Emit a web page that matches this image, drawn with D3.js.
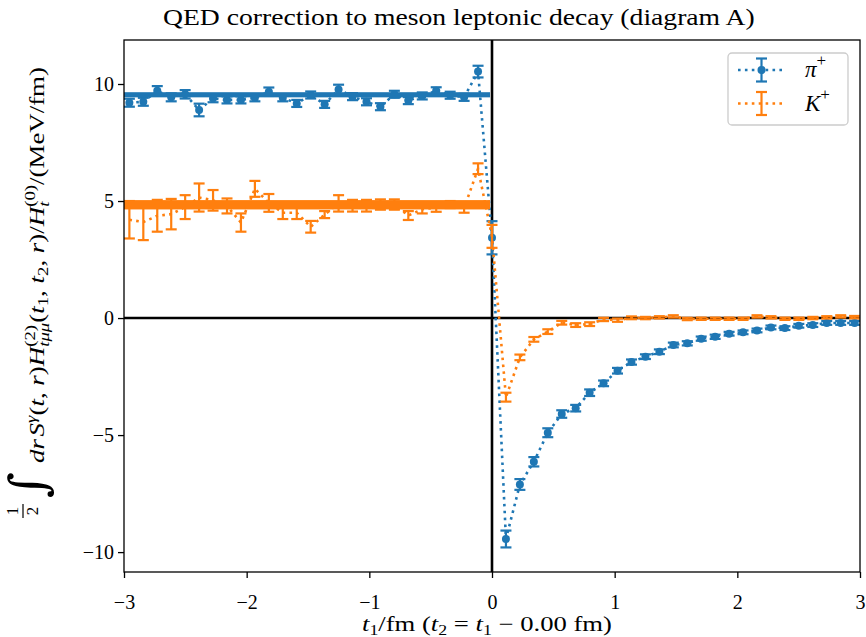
<!DOCTYPE html>
<html><head><meta charset="utf-8">
<script src="https://cdn.jsdelivr.net/npm/d3@7"></script>
<style>body{margin:0;background:#fff} svg{display:block}</style>
</head><body>
<svg id="chart" width="866" height="637"></svg>
<script>
// ---------------- data ----------------
const latticeSpacing = 0.1137; // fm
const steps = d3.range(-26, 27);
const tValues = steps.map(n => n * latticeSpacing);

const piValues = [
  9.20, 9.24, 9.71, 9.43, 9.56, 8.89, 9.39, 9.32, 9.32, 9.41, 9.67, 9.41, 9.17,
  9.53, 9.13, 9.77, 9.46, 9.24, 9.03, 9.56, 9.29, 9.49, 9.71, 9.52, 9.43, 10.53,
  3.43,
  -9.44, -7.11, -6.14, -4.90, -4.10, -3.85, -3.19, -2.79, -2.25, -1.88, -1.65, -1.44, -1.15,
  -1.08, -0.88, -0.80, -0.67, -0.61, -0.53, -0.40, -0.43, -0.33, -0.30, -0.21, -0.21, -0.21
];
const piErrors = [
  0.17, 0.17, 0.20, 0.17, 0.18, 0.27, 0.17, 0.15, 0.15, 0.15, 0.18, 0.15, 0.15,
  0.15, 0.15, 0.20, 0.15, 0.15, 0.15, 0.15, 0.15, 0.15, 0.15, 0.15, 0.15, 0.25,
  0.71,
  0.36, 0.23, 0.20, 0.19, 0.16, 0.14, 0.14, 0.12, 0.12, 0.11, 0.10, 0.10, 0.10,
  0.09, 0.09, 0.09, 0.08, 0.08, 0.08, 0.08, 0.08, 0.08, 0.08, 0.08, 0.08, 0.08
];
const kValues = [
  4.20, 4.10, 4.37, 4.44, 4.74, 5.15, 5.03, 4.79, 4.08, 5.52, 4.92, 4.50, 4.50,
  3.90, 4.42, 4.90, 4.80, 4.80, 4.85, 4.85, 4.38, 4.65, 4.72, 4.85, 4.70, 6.38,
  3.49,
  -3.38, -1.68, -0.91, -0.58, -0.20, -0.30, -0.26, -0.06, -0.09, 0.01, 0.00, 0.03, 0.07,
  -0.04, -0.03, -0.03, -0.03, -0.03, 0.07, 0.03, -0.03, -0.03, 0.00, 0.03, 0.07, 0.04
];
const kErrors = [
  0.80, 0.77, 0.68, 0.65, 0.51, 0.60, 0.44, 0.32, 0.39, 0.34, 0.38, 0.27, 0.27,
  0.25, 0.15, 0.35, 0.25, 0.25, 0.22, 0.22, 0.19, 0.18, 0.18, 0.15, 0.20, 0.23,
  0.49,
  0.19, 0.12, 0.10, 0.10, 0.08, 0.08, 0.08, 0.07, 0.07, 0.06, 0.05, 0.05, 0.05,
  0.05, 0.05, 0.05, 0.05, 0.05, 0.05, 0.05, 0.05, 0.05, 0.05, 0.05, 0.05, 0.05
];
const piFit = [9.54, 0.11];   // value, error  (fit over t < 0)
const kFit = [4.84, 0.20];
const fitRange = [-3, 0];
const xTicks = [-3, -2, -1, 0, 1, 2, 3];
const yTicks = [-10, -5, 0, 5, 10];
const seriesNames = ["π", "K"];

// ---------------- setup ----------------
const BLUE = "#1f77b4", ORANGE = "#ff7f0e";
const FONT = "'Liberation Serif', 'DejaVu Serif', serif";
const svg = d3.select("#chart");
const m = {left: 124, right: 860, top: 40, bottom: 572};
const x = d3.scaleLinear().domain([-3, 3]).range([m.left, m.right]);
const y = d3.scaleLinear().domain([-10.85, 11.88]).range([m.bottom, m.top]);

svg.append("defs").append("clipPath").attr("id", "clip")
  .append("rect").attr("x", m.left).attr("y", m.top)
  .attr("width", m.right - m.left).attr("height", m.bottom - m.top);

const plot = svg.append("g").attr("clip-path", "url(#clip)");

// zero lines
plot.append("line").attr("x1", m.left).attr("x2", m.right)
  .attr("y1", y(0)).attr("y2", y(0)).attr("stroke", "#000").attr("stroke-width", 2.6);
plot.append("line").attr("x1", x(0)).attr("x2", x(0))
  .attr("y1", m.top).attr("y2", m.bottom).attr("stroke", "#000").attr("stroke-width", 2.6);

function drawSeries(vals, errs, color, marker) {
  const pts = tValues.map((t, i) => ({t, v: vals[i], e: errs[i]}));
  const g = plot.append("g");
  g.append("path").datum(pts)
    .attr("d", d3.line().x(d => x(d.t)).y(d => y(d.v)))
    .attr("fill", "none").attr("stroke", color).attr("stroke-width", 2.6)
    .attr("stroke-dasharray", "2.6,4.3");
  const eb = g.selectAll("g.eb").data(pts).join("g").attr("class", "eb");
  eb.append("line").attr("x1", d => x(d.t)).attr("x2", d => x(d.t))
    .attr("y1", d => y(d.v - d.e)).attr("y2", d => y(d.v + d.e))
    .attr("stroke", color).attr("stroke-width", 2.2);
  [1, -1].forEach(s => {
    eb.append("line").attr("x1", d => x(d.t) - 5.5).attr("x2", d => x(d.t) + 5.5)
      .attr("y1", d => y(d.v + s * d.e)).attr("y2", d => y(d.v + s * d.e))
      .attr("stroke", color).attr("stroke-width", 2.2);
  });
  if (marker) {
    eb.append("circle").attr("cx", d => x(d.t)).attr("cy", d => y(d.v))
      .attr("r", 4).attr("fill", color);
  }
}
drawSeries(piValues, piErrors, BLUE, true);
drawSeries(kValues, kErrors, ORANGE, false);

// fit bands
[[piFit, BLUE], [kFit, ORANGE]].forEach(([f, c]) => {
  plot.append("rect").attr("x", x(fitRange[0])).attr("width", x(fitRange[1]) - x(fitRange[0]) - 2)
    .attr("y", y(f[0] + f[1])).attr("height", y(f[0] - f[1]) - y(f[0] + f[1]))
    .attr("fill", c);
});

// frame
svg.append("rect").attr("x", m.left).attr("y", m.top)
  .attr("width", m.right - m.left).attr("height", m.bottom - m.top)
  .attr("fill", "none").attr("stroke", "#000").attr("stroke-width", 1.3);

const fmt = d => d < 0 ? "\u2212" + Math.abs(d) : String(d);
// axes
const xa = svg.append("g").attr("transform", `translate(0,${m.bottom})`)
  .call(d3.axisBottom(x).tickValues(xTicks).tickSize(6).tickFormat(fmt));
xa.select(".domain").remove();
xa.selectAll("line").attr("stroke", "#000").attr("stroke-width", 1.3);
xa.selectAll("text").attr("y", 37).attr("dy", null)
  .attr("font-family", FONT).attr("font-size", 20).attr("fill", "#000");

const ya = svg.append("g").attr("transform", `translate(${m.left},0)`)
  .call(d3.axisLeft(y).tickValues(yTicks).tickSize(6).tickFormat(fmt));
ya.select(".domain").remove();
ya.selectAll("line").attr("stroke", "#000").attr("stroke-width", 1.3);
ya.selectAll("text").attr("x", -10).attr("dy", "0.33em")
  .attr("font-family", FONT).attr("font-size", 20).attr("fill", "#000");

// ---------- text layout helper ----------
function layout(parent, pieces, base) {
  let cx = 0, pend = null;
  pieces.forEach(p => {
    const t = parent.append("text").attr("x", cx).attr("y", p.dy || 0)
      .attr("font-family", p.ff || FONT).attr("font-size", p.fs || base)
      .attr("font-style", p.it ? "italic" : "normal").attr("fill", "#000")
      .style("white-space", "pre").text(p.t);
    const w = t.node().getComputedTextLength() + (p.gap || 0);
    if (p.stack) { pend = w; }
    else { cx += pend !== null ? Math.max(pend, w) : w; pend = null; }
  });
  return cx;
}

// title
{
  const g = svg.append("g");
  const t = g.append("text").attr("font-family", FONT).attr("font-size", 24)
    .text("QED correction to meson leptonic decay (diagram A)");
  const w = t.node().getComputedTextLength();
  g.attr("transform", `translate(163,25) scale(${592 / w},1)`);
}

// x label
{
  const g = svg.append("g");
  const w = layout(g, [
    {t: "t", it: true}, {t: "1", fs: 14, dy: 4}, {t: "/fm ("},
    {t: "t", it: true}, {t: "2", fs: 14, dy: 4}, {t: " = "},
    {t: "t", it: true}, {t: "1", fs: 14, dy: 4}, {t: " \u2212 0.00 fm)"}
  ], 21);
  g.attr("transform", `translate(362,631) scale(${250 / w},1)`);
}

// y label
{
  const g = svg.append("g").attr("transform", "translate(44,521) rotate(-90)");
  // fraction 1/2
  g.append("text").attr("x", 10).attr("y", -26).attr("text-anchor", "middle")
    .attr("font-family", FONT).attr("font-size", 17).text("1");
  g.append("line").attr("x1", 3).attr("x2", 17).attr("y1", -21).attr("y2", -21)
    .attr("stroke", "#000").attr("stroke-width", 1.2);
  g.append("text").attr("x", 10).attr("y", -6).attr("text-anchor", "middle")
    .attr("font-family", FONT).attr("font-size", 17).text("2");
  g.append("text").attr("x", 23).attr("y", 1)
    .attr("font-family", "'DejaVu Serif', serif").attr("font-size", 50).text("\u222B");
  const r = g.append("g");
  const w = layout(r, [
    {t: "dr", it: true, gap: 2}, {t: "S", it: true}, {t: "\u03B3", it: true, fs: 14, dy: -8},
    {t: "("}, {t: "t", it: true}, {t: ", "}, {t: "r", it: true}, {t: ")"},
    {t: "H", it: true}, {t: "(2)", fs: 14, dy: -9, stack: true}, {t: "t\u03BC\u03BC", it: true, fs: 14, dy: 5},
    {t: "("}, {t: "t", it: true}, {t: "1", fs: 14, dy: 4}, {t: ", "},
    {t: "t", it: true}, {t: "2", fs: 14, dy: 4}, {t: ", "}, {t: "r", it: true}, {t: ")/"},
    {t: "H", it: true}, {t: "(0)", fs: 14, dy: -9, stack: true}, {t: "t", it: true, fs: 14, dy: 5},
    {t: "/(MeV/fm)"}
  ], 20);
  r.attr("transform", `translate(58,0) scale(${396 / w},1)`);
}

// legend
{
  const L = svg.append("g");
  L.append("rect").attr("x", 728).attr("y", 53).attr("width", 120).attr("height", 72)
    .attr("rx", 4).attr("fill", "#fff").attr("fill-opacity", 0.8)
    .attr("stroke", "#cccccc").attr("stroke-width", 1.3);
  const entries = [[BLUE, true, 70, seriesNames[0]], [ORANGE, false, 103.5, seriesNames[1]]];
  entries.forEach(([c, mk, yy, name]) => {
    L.append("line").attr("x1", 738).attr("x2", 786).attr("y1", yy).attr("y2", yy)
      .attr("stroke", c).attr("stroke-width", 2.6).attr("stroke-dasharray", "2.6,4.3");
    L.append("line").attr("x1", 761.5).attr("x2", 761.5).attr("y1", yy - 11.5).attr("y2", yy + 11.5)
      .attr("stroke", c).attr("stroke-width", 2.2);
    [-11.5, 11.5].forEach(o => L.append("line").attr("x1", 756).attr("x2", 767)
      .attr("y1", yy + o).attr("y2", yy + o).attr("stroke", c).attr("stroke-width", 2.2));
    if (mk) L.append("circle").attr("cx", 761.5).attr("cy", yy).attr("r", 4).attr("fill", c);
    const tg = L.append("g").attr("transform", `translate(805,${yy + 7})`);
    layout(tg, [{t: name, it: true, fs: 23}, {t: "+", fs: 17, dy: -11}], 23);
  });
}
</script>
</body></html>
